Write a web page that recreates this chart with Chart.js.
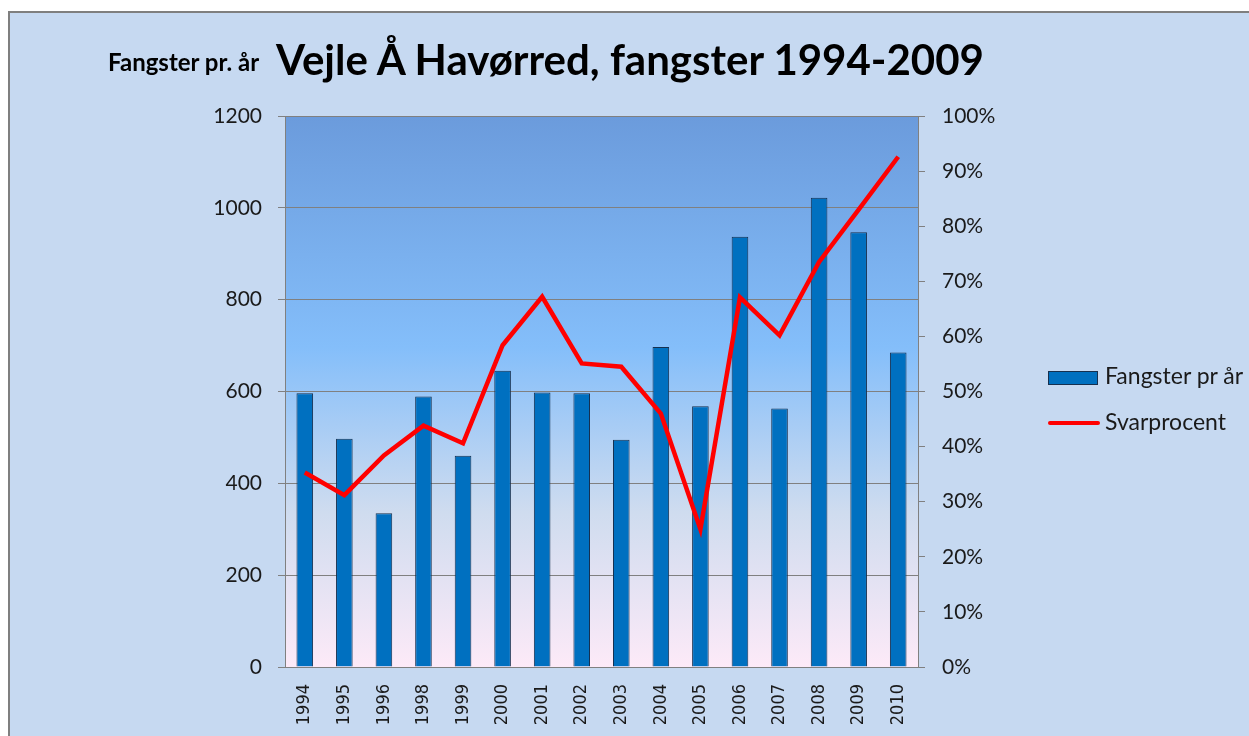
<!DOCTYPE html>
<html>
<head>
<meta charset="utf-8">
<script src="https://cdn.jsdelivr.net/npm/chart.js@4.4.1/dist/chart.umd.min.js"></script>
<style>
  html, body { margin: 0; padding: 0; background: #fff; width: 1249px; height: 736px; overflow: hidden; }
  #frame {
    position: absolute; left: 8px; top: 11px; width: 1300px; height: 800px;
    background: #C6D9F1; border-left: 2px solid #7f7f7f; border-top: 2px solid #7f7f7f;
  }
  #chart { position: absolute; left: 0; top: 0; }
  .txt { position: absolute; font-family: Lato, 'Open Sans', sans-serif; color: #000; white-space: nowrap; }
  #title { left: 0; width: 1260px; text-align: center; top: 38px; font-size: 42px; line-height: 42px; font-weight: bold; }
  #ytitle { left: 108px; top: 50px; font-size: 24px; line-height: 24px; font-weight: bold; }
  .leg-label { left: 1105px; font-size: 23px; line-height: 23px; color: #1a1a1a; }
  .leg-box { position: absolute; left: 1048px; top: 371px; width: 48px; height: 12px; border: 1px solid #16304f; }
  .leg-line { position: absolute; left: 1048px; top: 421px; width: 52px; height: 4px; border-radius: 2px; }
</style>
</head>
<body>
<div id="frame"></div>
<canvas id="chart" width="1249" height="736"></canvas>
<div class="txt" id="ytitle">Fangster pr. år</div>
<div class="txt" id="title">Vejle Å Havørred, fangster 1994-2009</div>
<div id="legend"></div>

<script>
// ── Data ────────────────────────────────────────────────
const years    = ['1994','1995','1996','1998','1999','2000','2001','2002',
                  '2003','2004','2005','2006','2007','2008','2009','2010'];
const fangster = [596, 497, 335, 589, 460, 645, 598, 596,
                  495, 697, 568, 937, 563, 1022, 947, 685];
const svarPct  = [35.3, 31.2, 38.4, 43.8, 40.6, 58.4, 67.2, 55.1,
                  54.5, 46.0, 25.0, 67.1, 60.2, 73.5, 83.0, 92.6];
const leftTicks  = { min: 0, max: 1200, step: 200 };
const rightTicks = { min: 0, max: 100, step: 10 };

const GRID = '#808080';
const tickFont = { family: 'Lato', size: 21 };

// plot area gradient (blue on top, pink at the bottom)
const plotBg = {
  id: 'plotBg',
  beforeDraw(chart) {
    const { ctx, chartArea: a } = chart;
    const g = ctx.createLinearGradient(0, a.top, 0, a.bottom);
    g.addColorStop(0,    '#6b9bdc');
    g.addColorStop(0.42, '#84befa');
    g.addColorStop(0.72, '#cfdcef');
    g.addColorStop(1,    '#fdeaf8');
    ctx.save();
    ctx.fillStyle = g;
    ctx.fillRect(a.left, a.top, a.right - a.left, a.bottom - a.top);
    ctx.restore();
  }
};

const chart = new Chart(document.getElementById('chart'), {
  type: 'bar',
  data: {
    labels: years,
    datasets: [
      {
        type: 'bar',
        label: 'Fangster pr år',
        data: fangster,
        yAxisID: 'y',
        backgroundColor: '#0070c0',
        borderColor: '#16304f',
        borderWidth: 1,
        categoryPercentage: 1,
        barPercentage: 0.42,
        order: 2,
      },
      {
        type: 'line',
        label: 'Svarprocent',
        data: svarPct,
        yAxisID: 'y1',
        borderColor: '#ff0000',
        backgroundColor: '#ff0000',
        borderWidth: 4.5,
        tension: 0,
        pointRadius: 0,
        fill: false,
        order: 1,
      }
    ]
  },
  options: {
    responsive: false,
    animation: false,
    devicePixelRatio: 1,
    layout: { padding: { top: 116, right: 211, bottom: 0, left: 0 } },
    scales: {
      x: {
        grid: { display: false },
        border: { display: true, color: GRID },
        ticks: {
          color: '#1a1a1a',
          font: { family: "'DejaVu Sans Condensed', 'Liberation Sans', sans-serif", size: 18 },
          minRotation: 90, maxRotation: 90,
          autoSkip: false,
          padding: 9,
        },
        afterFit: s => { s.height = 69; }
      },
      y: {
        position: 'left',
        min: leftTicks.min, max: leftTicks.max,
        ticks: { stepSize: leftTicks.step, color: '#1a1a1a', font: tickFont, padding: 16,
                 callback: v => String(v) },
        grid: { color: GRID, tickLength: 7 },
        border: { color: GRID },
        afterFit: s => { s.width = 285; }
      },
      y1: {
        position: 'right',
        min: rightTicks.min, max: rightTicks.max,
        ticks: { stepSize: rightTicks.step, color: '#1a1a1a', font: tickFont, padding: 17,
                 callback: v => v + '%' },
        grid: { drawOnChartArea: false, color: GRID, tickLength: 7 },
        border: { color: GRID },
        afterFit: s => { s.width = 120; }
      }
    },
    plugins: {
      legend: { display: false },
      tooltip: { enabled: false }
    }
  },
  plugins: [plotBg]
});

// ── Legend (HTML) ───────────────────────────────────────
const legendEl = document.getElementById('legend');
const ds = chart.data.datasets;
legendEl.innerHTML = `
  <div class="leg-box" style="background:${ds[0].backgroundColor};"></div>
  <div class="txt leg-label" style="top:364px;">${ds[0].label}</div>
  <div class="leg-line" style="background:${ds[1].borderColor};"></div>
  <div class="txt leg-label" style="top:410px;">${ds[1].label}</div>`;
</script>
</body>
</html>
